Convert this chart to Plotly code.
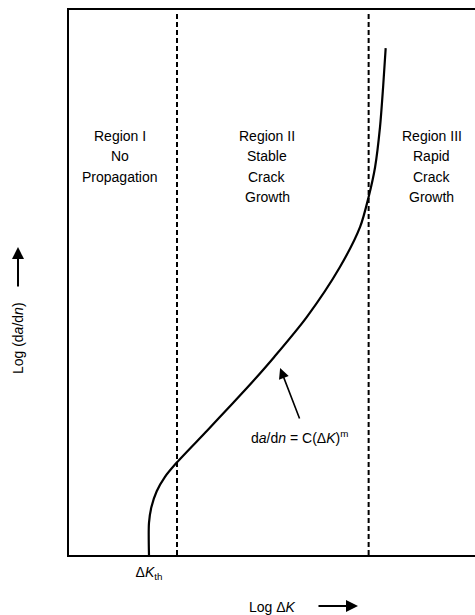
import plotly.graph_objects as go

# Curve data (arbitrary log units, 0-100 scale on both axes)
log_dK = [19.7, 19.7, 20.3, 21.6, 23.6, 26.6, 34.0, 40.4, 45.1, 50.5,
          58.6, 66.7, 71.7, 73.8, 75.4, 76.6, 77.4, 78.0]
log_dadn = [0.0, 5.9, 8.8, 11.7, 14.3, 17.0, 22.8, 27.9, 31.7, 36.3,
            43.7, 52.8, 60.2, 65.7, 71.2, 78.5, 86.2, 93.0]

K_th = 19.7
region_bounds = [26.6, 73.8]
boundary_top = 99.4

region_labels = [
    ["Region I", "No", "Propagation"],
    ["Region II", "Stable", "Crack", "Growth"],
    ["Region III", "Rapid", "Crack", "Growth"],
]
region_x = [12.6, 48.8, 89.4]
region_first_line_y = 76.9

formula_text = "d<i>a</i>/d<i>n</i> = C(Δ<i>K</i>)<sup>m</sup>"
formula_pos = (56.7, 21.7)
formula_arrow_head = (52.0, 34.3)

FONT = "Liberation Sans, Arial, Helvetica, sans-serif"

fig = go.Figure()
fig.add_trace(go.Scatter(
    x=log_dK, y=log_dadn, mode="lines",
    line=dict(color="black", width=2.2, shape="spline", smoothing=0.8),
    hoverinfo="skip", showlegend=False,
))

shapes = []
for xb in region_bounds:
    shapes.append(dict(type="line", xref="x", yref="y", x0=xb, x1=xb, y0=0, y1=boundary_top,
                       line=dict(color="black", width=2, dash="5px,3px")))

annotations = []
for lines, xc in zip(region_labels, region_x):
    for i, t in enumerate(lines):
        annotations.append(dict(x=xc, y=region_first_line_y, xref="x", yref="y", text=t,
                                showarrow=False, xanchor="center", yanchor="middle",
                                yshift=-20.5 * i, font=dict(size=14, color="black", family=FONT)))

annotations.append(dict(x=formula_pos[0], y=formula_pos[1], xref="x", yref="y",
                        text=formula_text, showarrow=False, xanchor="center", yanchor="middle",
                        font=dict(size=14, color="black", family=FONT)))
annotations.append(dict(x=formula_arrow_head[0], y=formula_arrow_head[1], xref="x", yref="y",
                        text="", showarrow=True, ax=20, ay=52, arrowhead=2, arrowsize=1.3,
                        arrowwidth=1.6, arrowcolor="black"))

# axis labels with arrows
annotations.append(dict(x=-0.1256, y=0.398, xref="paper", yref="paper",
                        text="Log (d<i>a</i>/d<i>n</i>)", textangle=-90, showarrow=False,
                        xanchor="center", yanchor="middle",
                        font=dict(size=14, color="black", family=FONT)))
annotations.append(dict(x=-0.1256, y=0.565, xref="paper", yref="paper", text="",
                        showarrow=True, ax=0, ay=41, arrowhead=2, arrowsize=1.2,
                        arrowwidth=2, arrowcolor="black"))
annotations.append(dict(x=0.5, y=-0.0954, xref="paper", yref="paper",
                        text="Log Δ<i>K</i>", showarrow=False,
                        xanchor="center", yanchor="middle",
                        font=dict(size=14, color="black", family=FONT)))
annotations.append(dict(x=0.7118, y=-0.0936, xref="paper", yref="paper", text="",
                        showarrow=True, ax=-41, ay=0, arrowhead=2, arrowsize=1.2,
                        arrowwidth=2, arrowcolor="black"))

fig.update_layout(
    width=475, height=615,
    margin=dict(l=69, r=0, t=10, b=60, autoexpand=False),
    paper_bgcolor="white", plot_bgcolor="white",
    shapes=shapes, annotations=annotations,
    font=dict(family=FONT, size=14, color="black"),
    xaxis=dict(range=[0, 100], showgrid=False, zeroline=False, showline=True, mirror=True,
               linecolor="black", linewidth=2, ticks="",
               tickvals=[K_th], ticktext=["Δ<i>K</i><sub>th</sub>"],
               ticklabelstandoff=3,
               tickfont=dict(size=14, color="black", family=FONT), fixedrange=True),
    yaxis=dict(range=[0, 100], showgrid=False, zeroline=False, showline=True, mirror=False,
               linecolor="black", linewidth=2, showticklabels=False, ticks="", fixedrange=True),
)

# Remove the browser's default 8px body margin so the 475x615 figure fills the window exactly.
fig.write_html("out.html",
               config={"displayModeBar": False, "staticPlot": True},
               post_script="document.body.style.margin='0';document.body.style.overflow='hidden';")
